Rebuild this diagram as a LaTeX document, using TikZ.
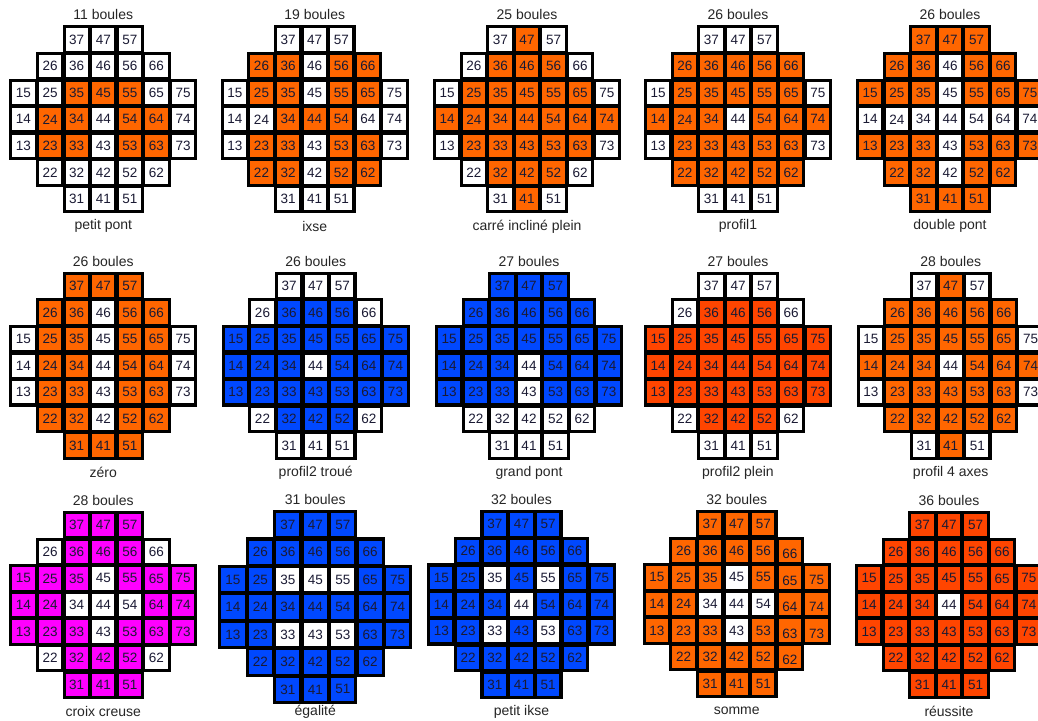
\documentclass[tikz,border=0pt]{standalone}
\usepackage{fontspec}
\setmainfont{Liberation Sans}
\definecolor{OR}{HTML}{FF6600}
\definecolor{RD}{HTML}{FF4500}
\definecolor{BL}{HTML}{0048FF}
\definecolor{MG}{HTML}{FF00FF}
\definecolor{txt}{HTML}{1A1A33}
\tikzset{
  num/.style={font=\fontsize{13.5}{15}\selectfont, text=txt, inner sep=0pt},
  ttl/.style={font=\fontsize{14}{16}\selectfont, text=black!85, inner sep=0pt}
}
\newcommand\allcells{37,47,57,26,36,46,56,66,15,25,35,45,55,65,75,14,24,34,44,54,64,74,13,23,33,43,53,63,73,22,32,42,52,62,31,41,51}
\makeatletter
% #1 name, #2 X, #3 Y, #4 size, #5 colour, #6 coloured cells, #7 title, #8 label, #9 shifted-text cells
\newcommand\drawboard[9]{%
  \pgfmathsetmacro\pp{(#4-1.8)/7}%
  \pgfmathsetmacro\ly{min(#3+#4+13,711.5)}%
  \foreach \c in \allcells {
    \pgfmathsetmacro\L{#2+0.9+(int(\c/10)-1)*\pp}
    \pgfmathsetmacro\T{#3+0.9+(7-mod(\c,10))*\pp}
    \fill[black] (\L-0.9,\T-0.9) rectangle (\L+\pp+0.9,\T+\pp+0.9);
  }
  \foreach \c in \allcells {
    \pgfmathsetmacro\L{#2+0.9+(int(\c/10)-1)*\pp}
    \pgfmathsetmacro\T{#3+0.9+(7-mod(\c,10))*\pp}
    \fill[white] (\L+2.15,\T+2.15) rectangle (\L+\pp-2.15,\T+\pp-2.15);
  }
  \foreach \c in {#6} {
    \pgfmathsetmacro\L{#2+0.9+(int(\c/10)-1)*\pp}
    \pgfmathsetmacro\T{#3+0.9+(7-mod(\c,10))*\pp}
    \fill[#5] (\L+2.15,\T+2.15) rectangle (\L+\pp-2.15,\T+\pp-2.15);
  }
  \foreach \c in \allcells {
    \pgfmathsetmacro\L{#2+0.9+(int(\c/10)-1)*\pp}
    \pgfmathsetmacro\T{#3+0.9+(7-mod(\c,10))*\pp}
    \edef\tmp{\noexpand\in@{,\c,}{,#9,}}\tmp
    \ifin@\def\dy{3}\else\def\dy{0}\fi
    \node[num] (#1-\c) at (\L+\pp/2,\T+\pp/2+\dy) {\c};
  }
  \node[ttl] (#1-t) at (#2+#4/2,#3-10.7) {#7};
  \node[ttl] (#1-l) at (#2+#4/2,\ly) {#8};
}
\makeatother
\begin{document}
\begin{tikzpicture}[x=1pt,y=-1pt]
\useasboundingbox (0,0) rectangle (1038,720);
\clip (0,0) rectangle (1038,720);
\fill[white] (0,0) rectangle (1038,720);
% row 1
\drawboard{b1}{9.3}{25.3}{188}{OR}{35,45,55,24,34,54,64,23,33,53,63}{11 boules}{petit pont}{}
\drawboard{b2}{220.7}{25.3}{188}{OR}{26,36,56,66,25,35,55,65,34,44,54,23,33,53,63,22,32,52,62}{19 boules}{ixse}{}
\drawboard{b3}{433}{25.3}{188}{OR}{47,36,46,56,25,35,45,55,65,14,24,34,44,54,64,74,23,33,43,53,63,32,42,52,41}{25 boules}{carré incliné plein}{}
\drawboard{b4}{644}{25.3}{188}{OR}{26,36,46,56,66,25,35,45,55,65,14,24,34,54,64,74,23,33,43,53,63,22,32,42,52,62}{26 boules}{profil1}{}
\drawboard{b5}{856}{25.3}{188}{OR}{37,47,57,26,36,56,66,15,25,35,55,65,75,13,23,33,53,63,73,22,32,52,62,31,41,51}{26 boules}{double pont}{}
% row 2
\drawboard{b6}{9.3}{271.7}{188}{OR}{37,47,57,26,36,56,66,25,35,55,65,24,34,54,64,23,33,53,63,22,32,52,62,31,41,51}{26 boules}{zéro}{}
\drawboard{b7}{221.7}{271.7}{188}{BL}{36,46,56,15,25,35,45,55,65,75,14,24,34,54,64,74,13,23,33,43,53,63,73,32,42,52}{26 boules}{profil2 troué}{}
\drawboard{b8}{435}{271.7}{188}{BL}{37,47,57,26,36,46,56,66,15,25,35,45,55,65,75,14,24,34,54,64,74,13,23,33,53,63,73}{27 boules}{grand pont}{}
\drawboard{b9}{644}{271.7}{188}{RD}{36,46,56,15,25,35,45,55,65,75,14,24,34,44,54,64,74,13,23,33,43,53,63,73,32,42,52}{27 boules}{profil2 plein}{}
\drawboard{b10}{856.7}{271.7}{188}{OR}{47,26,36,46,56,66,25,35,45,55,65,14,24,34,54,64,74,23,33,43,53,63,22,32,42,52,62,41}{28 boules}{profil 4 axes}{}
% row 3
\drawboard{b11}{9.3}{511}{188}{MG}{37,47,57,36,46,56,15,25,35,55,65,75,14,24,64,74,13,23,33,53,63,73,32,42,52,31,41,51}{28 boules}{croix creuse}{}
\drawboard{b12}{218.3}{510}{194}{BL}{37,47,57,26,36,46,56,66,15,25,65,75,14,24,34,44,54,64,74,13,23,63,73,22,32,42,52,62,31,41,51}{31 boules}{égalité}{}
\drawboard{b13}{427}{510}{189}{BL}{37,47,57,26,36,46,56,66,15,25,45,65,75,14,24,34,54,64,74,13,23,43,63,73,22,32,42,52,62,31,41,51}{32 boules}{petit ikse}{}
\drawboard{b14}{642.7}{510}{188}{OR}{37,47,57,26,36,46,56,66,15,25,35,55,65,75,14,24,64,74,13,23,33,53,63,73,22,32,42,52,62,31,41,51}{32 boules}{somme}{66,65,75,64,74,63,73,62}
\drawboard{b15}{855}{511}{188}{RD}{37,47,57,26,36,46,56,66,15,25,35,45,55,65,75,14,24,34,54,64,74,13,23,33,43,53,63,73,22,32,42,52,62,31,41,51}{36 boules}{réussite}{}
\end{tikzpicture}
\end{document}
